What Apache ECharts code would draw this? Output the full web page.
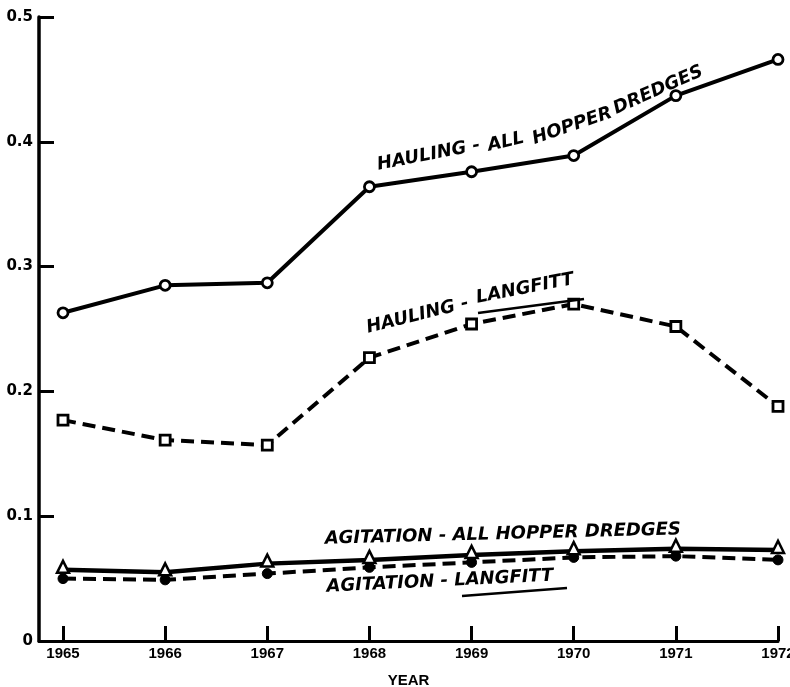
<!DOCTYPE html>
<html>
<head>
<meta charset="utf-8">
<script src="https://cdn.jsdelivr.net/npm/echarts@6/dist/echarts.min.js"></script>
<style>
  html, body { margin: 0; padding: 0; background: #fff; }
  #chart { width: 790px; height: 687px; }
</style>
</head>
<body>
<div id="chart"></div>
<script>
// Years on the horizontal axis
const years = [1965, 1966, 1967, 1968, 1969, 1970, 1971, 1972];
// Vertical axis ticks
const yTicks = [0, 0.1, 0.2, 0.3, 0.4, 0.5];

// Series values by year
const haulingAll        = [0.263, 0.285, 0.287, 0.364, 0.376, 0.389, 0.437, 0.466];
const haulingLangfitt   = [0.177, 0.161, 0.157, 0.227, 0.254, 0.270, 0.252, 0.188];
const agitationAll      = [0.057, 0.055, 0.062, 0.065, 0.069, 0.072, 0.074, 0.073];
const agitationLangfitt = [0.050, 0.049, 0.054, 0.059, 0.063, 0.067, 0.068, 0.065];

const pairs = vals => years.map((y, i) => [y, vals[i]]);

const INK = '#000';
const labelFont = 'italic bold 18px "DejaVu Sans"';

function tag(text, x, y, deg) {
  return {
    type: 'text', x: x, y: y, rotation: deg * Math.PI / 180,
    style: { text: text, font: labelFont, fill: INK, textAlign: 'left', textVerticalAlign: 'bottom' },
    z: 10
  };
}

const chart = echarts.init(document.getElementById('chart'), null, { renderer: 'canvas' });

chart.setOption({
  backgroundColor: '#fff',
  animation: false,
  grid: { left: 39, right: 12, top: 17, bottom: 46, containLabel: false, outerBoundsMode: 'none' },
  xAxis: {
    type: 'value',
    min: 1964.765,
    max: 1972,
    name: 'YEAR',
    nameLocation: 'middle',
    nameGap: 32,
    nameTextStyle: { fontFamily: 'Liberation Sans', fontWeight: 'bold', fontSize: 15, color: INK },
    axisLine: { show: true, lineStyle: { color: INK, width: 3 } },
    axisTick: { show: true, inside: true, length: 15, customValues: years, lineStyle: { color: INK, width: 3 } },
    axisLabel: {
      customValues: years, margin: 5,
      fontFamily: 'Liberation Sans', fontWeight: 'bold', fontSize: 15, color: INK,
      formatter: v => String(Math.round(v))
    },
    splitLine: { show: false }
  },
  yAxis: {
    type: 'value',
    min: yTicks[0],
    max: yTicks[yTicks.length - 1],
    interval: 0.1,
    axisLine: { show: true, lineStyle: { color: INK, width: 3.5 } },
    axisTick: { show: true, inside: true, length: 15, lineStyle: { color: INK, width: 3 } },
    axisLabel: {
      margin: 6,
      fontFamily: 'DejaVu Sans', fontWeight: 'bold', fontSize: 15, color: INK,
      formatter: v => (v === 0 ? '0' : v.toFixed(1))
    },
    splitLine: { show: false }
  },
  series: [
    {
      name: 'HAULING - ALL HOPPER DREDGES', type: 'line', data: pairs(haulingAll),
      symbol: 'circle', symbolSize: 10, showAllSymbol: true,
      lineStyle: { color: INK, width: 4 },
      itemStyle: { color: '#fff', borderColor: INK, borderWidth: 2.8 },
      z: 3
    },
    {
      name: 'HAULING - LANGFITT', type: 'line', data: pairs(haulingLangfitt),
      symbol: 'rect', symbolSize: 10,
      lineStyle: { color: INK, width: 4, type: [13, 7] },
      itemStyle: { color: '#fff', borderColor: INK, borderWidth: 2.8 },
      z: 3
    },
    {
      name: 'AGITATION - LANGFITT', type: 'line', data: pairs(agitationLangfitt),
      symbol: 'circle', symbolSize: 10,
      lineStyle: { color: INK, width: 4, type: [13, 7] },
      itemStyle: { color: INK, borderColor: INK, borderWidth: 1 },
      z: 3
    },
    {
      name: 'AGITATION - ALL HOPPER DREDGES', type: 'line', data: pairs(agitationAll),
      symbol: 'triangle', symbolSize: [12, 12], symbolOffset: [0, -3],
      lineStyle: { color: INK, width: 4.5 },
      itemStyle: { color: '#fff', borderColor: INK, borderWidth: 2.5 },
      z: 4
    }
  ],
  graphic: [
    // Upper curve caption, bending with the line
    tag('HAULING -', 379, 174, 11),
    tag('ALL', 490, 155, 13),
    tag('HOPPER', 536, 148, 19),
    tag('DREDGES', 618, 118, 24),
    // Langfitt hauling caption with underline
    tag('HAULING -', 369, 337, 14),
    tag('LANGFITT', 478, 307, 11),
    { type: 'line', shape: { x1: 478, y1: 313, x2: 584, y2: 299 }, style: { stroke: INK, lineWidth: 2.5 }, z: 10 },
    // Agitation captions
    tag('AGITATION - ALL HOPPER DREDGES', 325, 548, 1.5),
    tag('AGITATION - LANGFITT', 327, 596, 2.8),
    { type: 'line', shape: { x1: 462, y1: 596, x2: 567, y2: 588 }, style: { stroke: INK, lineWidth: 2.5 }, z: 10 }
  ]
});
</script>
</body>
</html>
